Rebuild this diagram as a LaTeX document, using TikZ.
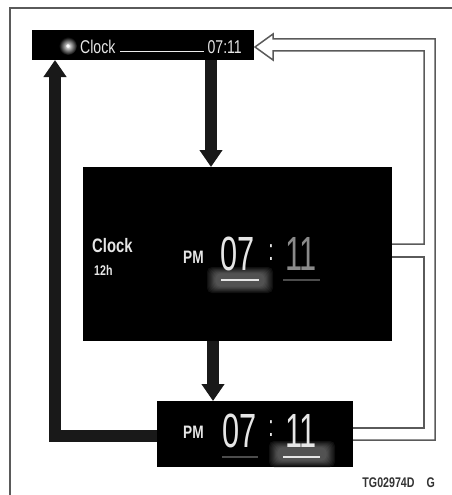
\documentclass[tikz,border=0pt]{standalone}
\usepackage{tikz}
\usetikzlibrary{positioning,arrows.meta}
\usepackage{fontspec}
\newfontfamily\dinfont[FakeStretch=0.76]{Liberation Sans}
\newfontfamily\dinthin[FakeStretch=0.64]{Liberation Sans}
\definecolor{frame}{HTML}{5A5A5A}
\definecolor{screenfg}{HTML}{E6E6E6}
\definecolor{dimfg}{HTML}{8A8A8A}

% glow behind the selected field
\newcommand\glowat[2]{%
	\foreach \i/\c in {0/94,1/90,2/86,3/82,4/78,5/74,6/71,7/68}{%
		\fill[black!\c,rounded corners=5pt] ({#1-33+1.2*\i},{#2-13+0.9*\i}) rectangle ({#1+33-1.2*\i},{#2+13-0.9*\i});
	}%
}

\begin{document}
\begin{tikzpicture}[x=1pt,y=-1pt,>=stealth,
	screen/.style={draw=none,fill=black,inner sep=0pt,outer sep=0pt},
	thickarrow/.style={draw=black!90,line width=12pt,-{Triangle[width=22pt,length=17pt]}},
	hollowline/.style={draw=frame,line width=1.5pt,line join=miter},
	lbl/.style={inner sep=0pt,text=screenfg,font=\dinfont\bfseries},
	big/.style={inner sep=0pt,text=screenfg,font=\dinthin\fontsize{48}{48}\selectfont}]
\useasboundingbox (0,0) rectangle (452,495);
% open frame
\draw[frame,line width=1.5pt] (10,495) -- (10,8) -- (452,8);

% the three screens
\node[screen,minimum width=222pt,minimum height=30pt] (bar) at (143,45) {};
\node[screen,minimum width=309pt,minimum height=174pt] (main) at (237.5,254) {};
\node[screen,minimum width=196pt,minimum height=66pt] (small) at (255,434) {};

% top bar
\shade[inner color=white,outer color=black] (68,46) circle (9);
\fill[white] (68,46) circle (1.8);
\node[lbl,font=\dinfont\fontsize{18.5}{18.5}\selectfont,anchor=base west] (barclock) at (80,53) {Clock};
\node[lbl,font=\dinfont\fontsize{18.5}{18.5}\selectfont,anchor=base east] (bartime) at (242,53) {07:11};
\coordinate (l1) at (120,52);
\coordinate (l2) at (204,52);
\draw[screenfg!80,line width=1pt] (l1) -- (l2);

% main screen
\glowat{240}{280}
\node[lbl,font=\dinfont\bfseries\fontsize{19.5}{19.5}\selectfont,anchor=base west] (mclock) at (92,252) {Clock};
\node[lbl,font=\dinfont\bfseries\fontsize{14}{14}\selectfont,anchor=base west] (mmode) at (94,275) {12h};
\node[lbl,font=\dinfont\bfseries\fontsize{18}{18}\selectfont,anchor=base west] (mpm) at (183,263) {PM};
\node[big,anchor=base] (mhour) at (238,270) {07};
\node[big,font=\dinthin\fontsize{30}{30}\selectfont] (mcolon) at (271,253) {:};
\node[big,text=dimfg,anchor=base] (mmin) at (301,270) {11};
\draw[screenfg,line width=2.5pt] (221,280) -- (259,280);
\draw[black!70,line width=1.2pt] (283,280) -- (320,280);

% small screen
\glowat{302}{454}
\node[lbl,font=\dinfont\bfseries\fontsize{18}{18}\selectfont,anchor=base west] (spm) at (183,438) {PM};
\node[big,anchor=base] (shour) at (240,447) {07};
\node[big,font=\dinthin\fontsize{30}{30}\selectfont] (scolon) at (271,429) {:};
\node[big,anchor=base] (smin) at (301,447) {11};
\draw[black!70,line width=1.2pt] (222,457) -- (258,457);
\draw[screenfg,line width=2.5pt] (283,457) -- (320,457);

% black arrows
\coordinate (c1) at (211,0);
\coordinate (c2) at (213,0);
\coordinate (c3) at (55,436);
\draw[thickarrow] (bar.south -| c1) -- (main.north -| c1);
\draw[thickarrow] (main.south -| c2) -- (small.north -| c2);
\draw[thickarrow,line join=miter] (small.west |- c3) -| (bar.south -| c3);

% hollow arrow back to the bar
\coordinate (o1) at (435,440);
\coordinate (o2) at (424,428);
\coordinate (m1) at (424,244);
\coordinate (m2) at (424,257);
\coordinate (tip) at (255,47);
\draw[hollowline] (small.east |- o1) -- (o1) -- (435,39) -- (273,39) -- (273,34)
	-- (tip) -- (273,60) -- (273,51) -- (424,51) -- (m1) -- (main.east |- m1);
\draw[hollowline] (main.east |- m2) -- (m2) -- (o2) -- (small.east |- o2);

\node[inner sep=0pt,text=black!80,font=\dinfont\bfseries\fontsize{14}{14}\selectfont,anchor=base east] (code) at (435,487) {TG02974D\hspace{12pt}G};
\end{tikzpicture}
\end{document}
